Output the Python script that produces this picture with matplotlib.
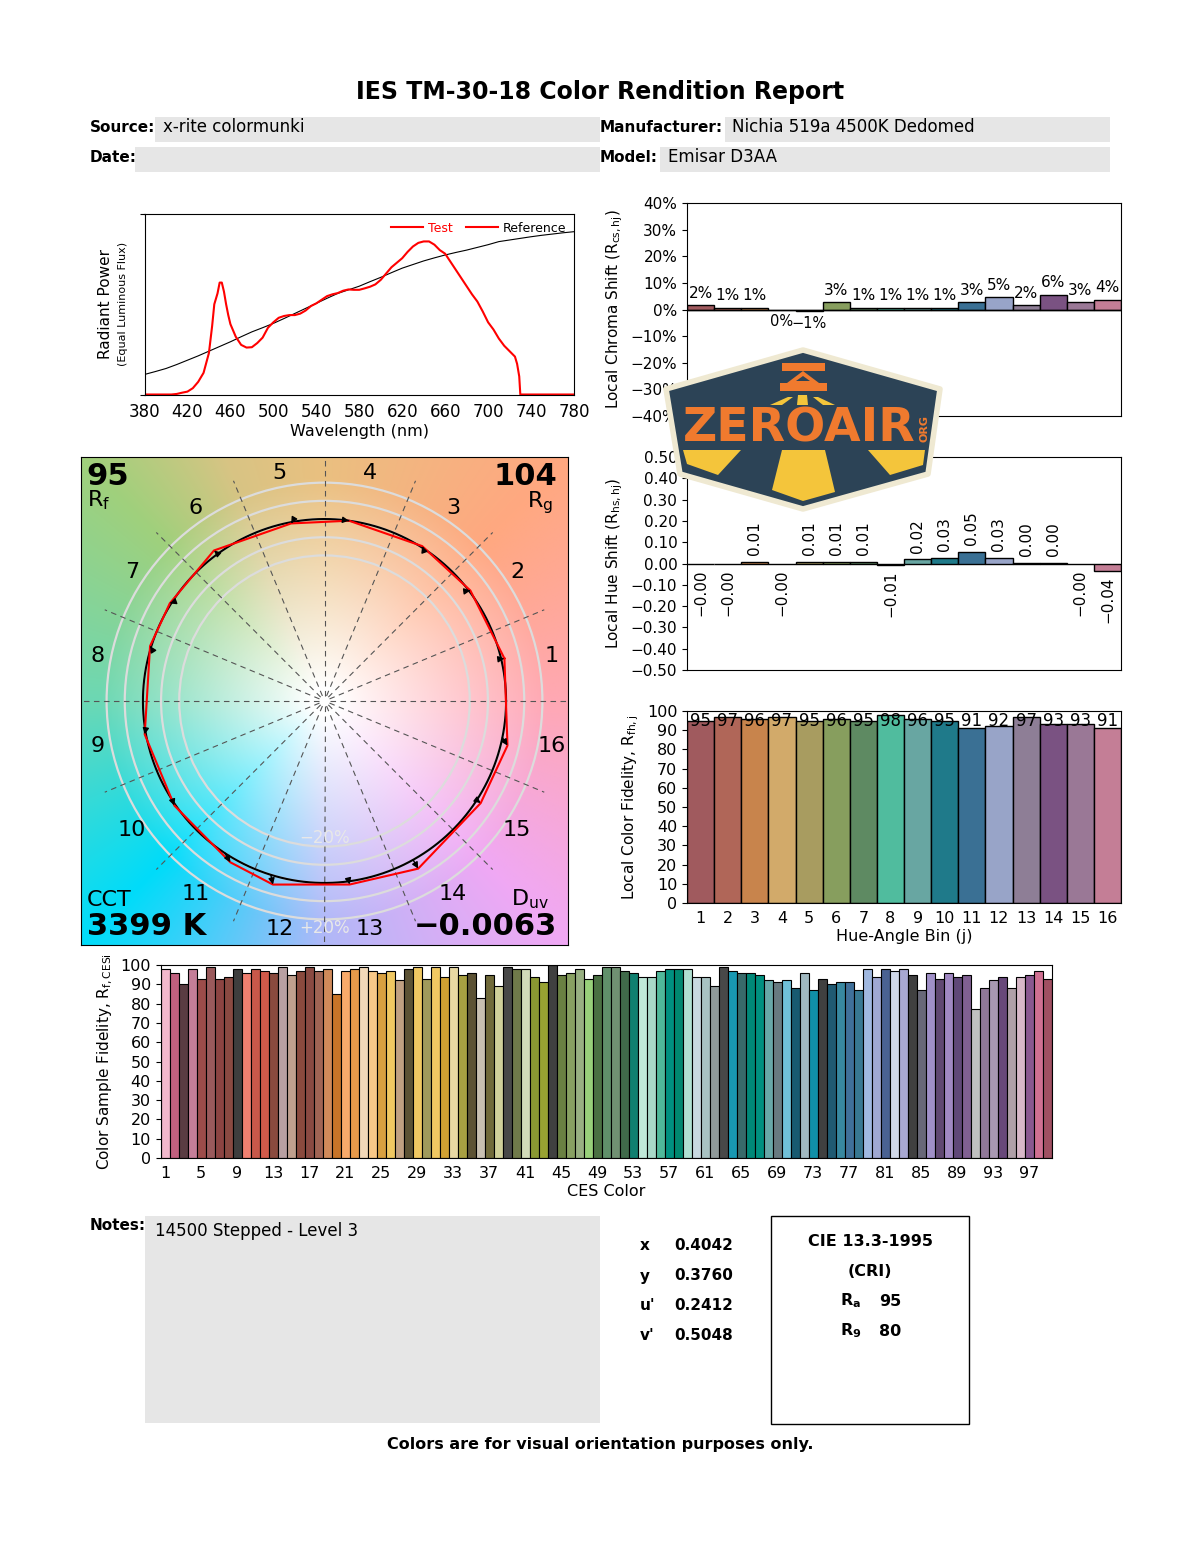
import numpy as np
import matplotlib
matplotlib.use("Agg")
import matplotlib.pyplot as plt
from matplotlib.patches import Polygon, Rectangle, Circle
from matplotlib.lines import Line2D
from matplotlib.colors import to_rgb

plt.rcParams['font.family'] = ['DejaVu Sans']

W, H = 1200, 1550
MINUS = '\u2212'

# ---- data ----
wl_test = [380, 390, 400, 405, 410, 415, 420, 425, 430, 435,
           440, 443, 445, 448, 450, 452, 454, 456, 458, 460,
           465, 470, 475, 480, 485, 490, 495, 500, 505, 510,
           515, 520, 525, 530, 535, 540, 545, 550, 555, 560,
           565, 570, 575, 580, 585, 590, 595, 600, 605, 610,
           615, 620, 625, 630, 635, 640, 645, 650, 655, 660,
           665, 670, 675, 680, 685, 690, 695, 700, 705, 710,
           715, 720, 725, 727, 729, 730, 740, 780]
spd_test = [0, 0, 0, 0, 0.003, 0.01, 0.016, 0.035, 0.07, 0.12,
            0.23, 0.38, 0.50, 0.56, 0.62, 0.62, 0.57, 0.50, 0.44, 0.39,
            0.32, 0.275, 0.26, 0.262, 0.285, 0.315, 0.37, 0.40, 0.425, 0.435,
            0.44, 0.44, 0.448, 0.465, 0.49, 0.505, 0.525, 0.545, 0.555, 0.562,
            0.575, 0.582, 0.58, 0.58, 0.588, 0.597, 0.61, 0.635, 0.67, 0.705,
            0.73, 0.755, 0.79, 0.82, 0.84, 0.848, 0.848, 0.83, 0.80, 0.78,
            0.735, 0.69, 0.645, 0.60, 0.555, 0.515, 0.46, 0.40, 0.36, 0.31,
            0.27, 0.24, 0.21, 0.17, 0.10, 0.0, 0.0, 0.0]
wl_ref = list(range(380, 781, 10))
spd_ref = [0.111, 0.127, 0.144, 0.166, 0.19, 0.214, 0.24, 0.266, 0.292, 0.32,
           0.347, 0.37, 0.394, 0.421, 0.449, 0.477, 0.505, 0.533, 0.56, 0.58,
           0.60, 0.625, 0.649, 0.675, 0.70, 0.72, 0.74, 0.757, 0.773, 0.787,
           0.80, 0.815, 0.83, 0.847, 0.856, 0.865, 0.874, 0.882, 0.889, 0.896,
           0.902]

bins = list(range(1, 17))
bin_colors = ['#a05a5e', '#b06658', '#c8844c', '#d2aa6a', '#a89c60', '#879e5e',
              '#5e8a62', '#50bc9e', '#68a6a2', '#1f7a8a', '#3a7094', '#98a4c8',
              '#8e7e96', '#7a5282', '#9a7896', '#c47e96']
chroma_shift = [0.018, 0.007, 0.007, 0.0, -0.007, 0.027, 0.007, 0.007,
                0.007, 0.007, 0.027, 0.048, 0.018, 0.056, 0.027, 0.037]
hue_shift = [-0.002, -0.004, 0.009, -0.001, 0.006, 0.006, 0.009, -0.006,
             0.019, 0.028, 0.052, 0.026, 0.002, 0.001, -0.002, -0.036]
local_fid = [95, 97, 96, 97, 95, 96, 95, 98, 96, 95, 91, 92, 97, 93, 93, 91]
ref_angle = [13.4, 37.3, 57.2, 82.3, 100.3, 126.0, 147.3, 162.9,
             189.4, 213.2, 236.7, 252.8, 277.7, 299.2, 327.0, 348.4]

ces_fid = [98, 96, 90, 98, 93, 99, 93, 94, 98, 96,
           98, 97, 96, 99, 95, 97, 99, 97, 98, 85,
           97, 98, 99, 97, 96, 97, 92, 98, 99, 93,
           99, 94, 99, 95, 96, 83, 95, 89, 99, 98,
           98, 94, 91, 100, 95, 96, 98, 93, 95, 99,
           99, 97, 96, 94, 94, 97, 98, 98, 98, 94,
           94, 89, 99, 97, 96, 96, 95, 92, 91, 92,
           88, 96, 87, 93, 90, 91, 91, 87, 98, 94,
           98, 97, 98, 95, 87, 96, 93, 96, 94, 95,
           77, 88, 92, 94, 88, 94, 95, 97, 93]
ces_colors = ['#f2b8cc', '#c0607e', '#5a3c42', '#c47e98', '#9c4c4a', '#9a5a5c', '#8c4442', '#8a4a42', '#3e3e3e', '#f08070',
              '#c8584a', '#d05a4a', '#8a4a3e', '#b8a0a2', '#c0a08e', '#8a4a3e', '#8a4a42', '#a06454', '#d08a5a', '#c87428',
              '#f8aa6a', '#e89a4a', '#f2d8b8', '#f8c888', '#d8a040', '#f0c862', '#c0a082', '#5c5234', '#f0c862', '#a09a5c',
              '#f0c862', '#d0a032', '#e8d8a2', '#a8a042', '#5c5234', '#c8c0b2', '#706a3a', '#d0d09a', '#484848', '#707a4a',
              '#d2dab8', '#8a9832', '#98a232', '#404040', '#6a8042', '#88a062', '#98b082', '#98d07a', '#4a7042', '#60906a',
              '#709072', '#406a4a', '#108070', '#c0e8d8', '#a8d8c8', '#50b89a', '#009080', '#008870', '#b0e0d2', '#c8d8e0',
              '#a8c2c2', '#909a9a', '#484848', '#1898b2', '#386a6a', '#008878', '#009080', '#68a8a8', '#687a80', '#70c0d8',
              '#185a70', '#a0b8c0', '#1090a8', '#404040', '#205a72', '#3888a0', '#40709a', '#387892', '#a0b8e0', '#a0a8d2',
              '#4a6292', '#d0d8e8', '#a8a8d2', '#404040', '#686878', '#a090c8', '#604872', '#a088c2', '#604878', '#806092',
              '#c0c0c0', '#907898', '#a898b2', '#68487a', '#b0a0a8', '#d8b8c8', '#8a5890', '#d07092', '#a05062']
ces_ticks = list(range(1, 100, 4))

Rf, Rg = 95, 104
CCT, Duv = 3399, -0.0063
chrom_labels = ['x', 'y', "u'", "v'"]
chrom_values = [0.4042, 0.3760, 0.2412, 0.5048]
Ra, R9 = 95, 80


def box(x0, y0, x1, y1):
    return [x0 / W, 1 - y1 / H, (x1 - x0) / W, (y1 - y0) / H]


fig = plt.figure(figsize=(12, 15.5), dpi=100)

# background layer in pixel coordinates
bg = fig.add_axes([0, 0, 1, 1], zorder=-1)
bg.set_xlim(0, W)
bg.set_ylim(H, 0)
bg.axis('off')

bg.text(600, 92, 'IES TM-30-18 Color Rendition Report', ha='center', va='center',
        fontsize=17, fontweight='bold')
grey = '#e6e6e6'
for (x0, y0, x1, y1) in [(155, 117, 600, 142), (135, 147, 600, 172),
                         (725, 117, 1110, 142), (660, 147, 1110, 172)]:
    bg.add_patch(Rectangle((x0, y0), x1 - x0, y1 - y0, fc=grey, ec='none'))
bg.text(90, 127, 'Source:', fontweight='bold', fontsize=11, va='center')
bg.text(163, 127, 'x-rite colormunki', fontsize=12, va='center')
bg.text(90, 157, 'Date:', fontweight='bold', fontsize=11, va='center')
bg.text(600, 127, 'Manufacturer:', fontweight='bold', fontsize=11, va='center')
bg.text(732, 127, 'Nichia 519a 4500K Dedomed', fontsize=12, va='center')
bg.text(600, 157, 'Model:', fontweight='bold', fontsize=11, va='center')
bg.text(668, 157, 'Emisar D3AA', fontsize=12, va='center')

bg.text(105, 304, 'Radiant Power', rotation=90, ha='center', va='center', fontsize=11)
bg.text(123, 304, '(Equal Luminous Flux)', rotation=90, ha='center', va='center', fontsize=8)

# notes + chromaticity + CRI
bg.add_patch(Rectangle((145, 1216), 455, 207, fc=grey, ec='none'))
bg.text(90, 1226, 'Notes:', fontweight='bold', fontsize=11, va='center')
bg.text(155, 1231, '14500 Stepped - Level 3', fontsize=12, va='center')
for i, (lab, val) in enumerate(zip(chrom_labels, chrom_values)):
    yy = 1246 + 30 * i
    bg.text(640, yy, lab, fontweight='bold', fontsize=11, va='center')
    bg.text(674, yy, f'{val:.4f}', fontweight='bold', fontsize=11, va='center')
bg.add_patch(Rectangle((771, 1216), 198, 208, fill=False, ec='black', lw=1))
bg.text(870, 1241, 'CIE 13.3-1995', ha='center', va='center', fontweight='bold', fontsize=11.5)
bg.text(870, 1271, '(CRI)', ha='center', va='center', fontweight='bold', fontsize=11.5)
bg.text(840, 1301, r'$\mathbf{R}_\mathbf{a}$', va='center', fontsize=11.5)
bg.text(879, 1301, f'{Ra}', va='center', fontweight='bold', fontsize=11.5)
bg.text(840, 1331, r'$\mathbf{R}_\mathbf{9}$', va='center', fontsize=11.5)
bg.text(879, 1331, f'{R9}', va='center', fontweight='bold', fontsize=11.5)
bg.text(600, 1444, 'Colors are for visual orientation purposes only.', ha='center',
        va='center', fontweight='bold', fontsize=11.5)

# ---- spectrum ----
ax = fig.add_axes(box(144.5, 214, 574, 394.5))
ax.plot(wl_ref, spd_ref, color='black', lw=0.8)
ax.plot(wl_test, spd_test, color='red', lw=1.5)
ax.set_xlim(380, 780)
ax.set_ylim(0, 1)
ax.set_xticks(range(380, 781, 40))
ax.set_yticks([0, 1])
ax.set_yticklabels([])
ax.tick_params(axis='x', length=0, labelsize=12, pad=6)
ax.set_xlabel('Wavelength (nm)', fontsize=11.5, labelpad=2)
hand = [Line2D([], [], color='red', lw=1.5), Line2D([], [], color='red', lw=1.5)]
leg = ax.legend(hand, ['Test', 'Reference'], ncol=2, loc='upper right', frameon=False,
                fontsize=9, handlelength=2.6, columnspacing=1.0, handletextpad=0.4,
                borderaxespad=0.2)
leg.get_texts()[0].set_color('red')

# ---- chroma shift ----
ac = fig.add_axes(box(687, 203, 1121, 416))
ac.bar(bins, chroma_shift, width=1, color=bin_colors, edgecolor='black', lw=1)
ac.axhline(0, color='black', lw=1)
for x, v in zip(bins, chroma_shift):
    s = f'{v * 100:.0f}%'.replace('-', MINUS)
    if v > 0:
        ac.annotate(s, (x, v), xytext=(0, 3), textcoords='offset points',
                    ha='center', va='bottom', fontsize=11)
    else:
        ac.annotate(s, (x, v), xytext=(0, -3), textcoords='offset points',
                    ha='center', va='top', fontsize=10.5)
ac.set_xlim(0.5, 16.5)
ac.set_ylim(-0.4, 0.4)
cticks = np.arange(-4, 5) / 10
ac.set_yticks(cticks)
ac.set_yticklabels([f'{t * 100:.0f}%'.replace('-', MINUS) for t in cticks])
ac.set_xticks([])
ac.tick_params(labelsize=11)
ac.set_ylabel(r'Local Chroma Shift (R$_{\mathregular{cs,hj}}$)', fontsize=11)

# ---- hue shift ----
ah = fig.add_axes(box(687, 457, 1121, 670))
ah.bar(bins, hue_shift, width=1, color=bin_colors, edgecolor='black', lw=1)
for x, v in zip(bins, hue_shift):
    s = f'{v:.2f}'.replace('-', MINUS)
    if v > 0:
        ah.annotate(s, (x, v), xytext=(0, 5), textcoords='offset points', rotation=90,
                    ha='center', va='bottom', fontsize=11)
    else:
        ah.annotate(s, (x, v), xytext=(0, -4), textcoords='offset points', rotation=90,
                    ha='center', va='top', fontsize=11,
                    bbox=dict(fc='white', ec='none', pad=0.5))
ah.set_xlim(0.5, 16.5)
ah.set_ylim(-0.5, 0.5)
hticks = np.arange(-5, 6) / 10
ah.set_yticks(hticks)
ah.set_yticklabels([f'{t:.2f}'.replace('-', MINUS) for t in hticks])
ah.set_xticks([])
ah.tick_params(labelsize=11)
ah.set_ylabel(r'Local Hue Shift (R$_{\mathregular{hs,hj}}$)', fontsize=11)

# ---- local fidelity ----
af = fig.add_axes(box(687, 711, 1121, 903))
af.bar(bins, local_fid, width=1, color=bin_colors, edgecolor='black', lw=1)
for x, v in zip(bins, local_fid):
    af.text(x, Rf, f'{v}', ha='center', va='center', fontsize=12)
af.set_xlim(0.5, 16.5)
af.set_ylim(0, 100)
af.set_yticks(range(0, 101, 10))
af.set_xticks(bins)
af.tick_params(axis='x', length=0, pad=6)
af.tick_params(labelsize=11.5)
af.set_xlabel('Hue-Angle Bin (j)', fontsize=11.5, labelpad=2)
af.set_ylabel(r'Local Color Fidelity, R$_{\mathregular{fh,j}}$', fontsize=11)

# ---- vector graphic ----
vg = fig.add_axes(box(81, 457, 568, 945))
L = 1.341
hue_deg = [0, 45, 90, 112, 135, 180, 225, 270, 315, 360]
hue_col = ['#ffa8b4', '#ffa880', '#eac080', '#d8c484', '#a0d07c', '#6cd8b4',
           '#00dcfa', '#b0b8f8', '#f0a8f4', '#ffa8b4']
g = np.linspace(-L, L, 500)
X, Y = np.meshgrid(g, g)
ang = np.degrees(np.arctan2(Y, X)) % 360
R = np.hypot(X, Y)
rgb = np.array([to_rgb(c) for c in hue_col])
hue_img = np.stack([np.interp(ang, hue_deg, rgb[:, k]) for k in range(3)], axis=-1)
a = np.clip((R - 0.08) / 1.15, 0, 1) ** 0.9
img = 1 - a[..., None] * (1 - hue_img)
vg.imshow(img, extent=[-L, L, -L, L], origin='lower', aspect='auto', zorder=0)
for f in [0.8, 0.9, 1.0, 1.1, 1.2]:
    vg.add_patch(Circle((0, 0), f, fill=False, ec='#dcdcdc', lw=1.6, zorder=1))
for k in range(16):
    th = np.radians(k * 22.5)
    rr = 1.345 if k % 4 == 0 else 1.31
    vg.plot([0.03 * np.cos(th), rr * np.cos(th)], [0.03 * np.sin(th), rr * np.sin(th)],
            ls=(0, (5, 4)), color='#555555', lw=0.8, zorder=2)
t = np.linspace(0, 2 * np.pi, 400)
vg.plot(np.cos(t), np.sin(t), color='black', lw=1.5, zorder=3)
th_r = np.radians(ref_angle)
th_t = th_r + np.array(hue_shift)
r_t = 1 + np.array(chroma_shift)
xt, yt = r_t * np.cos(th_t), r_t * np.sin(th_t)
vg.plot(np.append(xt, xt[0]), np.append(yt, yt[0]), color='red', lw=1.5, zorder=4)
for j in range(16):
    vg.annotate('', xy=(xt[j], yt[j]), xytext=(np.cos(th_r[j]), np.sin(th_r[j])),
                arrowprops=dict(arrowstyle='-|>', color='black', lw=1,
                                mutation_scale=9, shrinkA=0, shrinkB=0), zorder=5)
for j in bins:
    th = np.radians((j - 0.5) * 22.5)
    vg.text(1.275 * np.cos(th), 1.275 * np.sin(th), str(j), ha='center', va='center',
            fontsize=16, zorder=6)
vg.text(0, -0.8, MINUS + '20%', ha='center', va='bottom', color='#e8e8e8', fontsize=12, zorder=6)
vg.text(0, -1.2, '+20%', ha='center', va='top', color='#e8e8e8', fontsize=12, zorder=6)
vg.set_xlim(-L, L)
vg.set_ylim(-L, L)
vg.set_xticks([])
vg.set_yticks([])
tr = vg.transAxes
vg.text(0.012, 0.99, f'{Rf}', transform=tr, ha='left', va='top', fontsize=22, fontweight='bold')
vg.text(0.012, 0.935, r'R$_\mathregular{f}$', transform=tr, ha='left', va='top', fontsize=16)
vg.text(0.978, 0.99, f'{Rg}', transform=tr, ha='right', va='top', fontsize=22, fontweight='bold')
vg.text(0.97, 0.935, r'R$_\mathregular{g}$', transform=tr, ha='right', va='top', fontsize=16)
vg.text(0.012, 0.112, 'CCT', transform=tr, ha='left', va='top', fontsize=16)
vg.text(0.012, 0.008, f'{CCT} K', transform=tr, ha='left', va='bottom', fontsize=22, fontweight='bold')
vg.text(0.96, 0.118, r'D$_\mathregular{uv}$', transform=tr, ha='right', va='top', fontsize=16)
vg.text(0.978, 0.008, f'{Duv:.4f}'.replace('-', MINUS), transform=tr, ha='right', va='bottom',
        fontsize=22, fontweight='bold')

# ---- CES sample fidelity ----
ae = fig.add_axes(box(160.5, 965, 1051.5, 1158))
ces_idx = list(range(1, len(ces_fid) + 1))
ae.bar(ces_idx, ces_fid, width=1, color=ces_colors, edgecolor='black', lw=0.8)
ae.set_xlim(0.5, 99.5)
ae.set_ylim(0, 100)
ae.set_yticks(range(0, 101, 10))
ae.set_xticks(ces_ticks)
ae.tick_params(axis='x', length=0, pad=6)
ae.tick_params(labelsize=11.5)
ae.set_xlabel('CES Color', fontsize=11.5, labelpad=2)
ae.set_ylabel(r'Color Sample Fidelity, R$_{\mathregular{f,CESi}}$', fontsize=11)

# ---- watermark badge ----
lg = fig.add_axes([0, 0, 1, 1], zorder=10)
lg.set_xlim(0, W)
lg.set_ylim(H, 0)
lg.axis('off')
navy, orange, yellow, cream = '#2c4356', '#f07a2e', '#f4c53b', '#efe9d2'
lg.add_patch(Polygon([(803, 350), (940, 389), (928, 474), (803, 509), (680, 474), (666, 389)],
                     closed=True, fc=navy, ec=cream, lw=4, joinstyle='round'))
for pts in [[(683, 450), (741, 450), (718, 475), (687, 464)],
            [(782, 450), (825, 450), (835, 492), (803, 501), (772, 490)],
            [(868, 450), (925, 450), (923, 465), (890, 475)],
            [(770, 405), (788, 397), (793, 397), (782, 405)],
            [(798, 395), (807, 395), (808, 405), (797, 405)],
            [(813, 397), (818, 397), (835, 405), (823, 405)]]:
    lg.add_patch(Polygon(pts, closed=True, fc=yellow, ec='none'))
lg.add_patch(Rectangle((782, 363), 43, 8, fc=orange, ec='none'))
lg.add_patch(Rectangle((780, 383), 47, 8, fc=orange, ec='none'))
lg.add_patch(Polygon([(787, 383), (819, 383), (803, 371)], closed=True, fc=orange, ec='none'))
lg.add_patch(Polygon([(796, 381), (810, 381), (803, 376)], closed=True, fc=navy, ec='none'))
lg.text(799, 429, 'ZEROAIR', ha='center', va='center', fontsize=34, fontweight='heavy', color=orange)
lg.text(924, 429, 'ORG', ha='center', va='center', rotation=90, fontsize=8, fontweight='bold', color=orange)

fig.savefig('out.png', dpi=100)
